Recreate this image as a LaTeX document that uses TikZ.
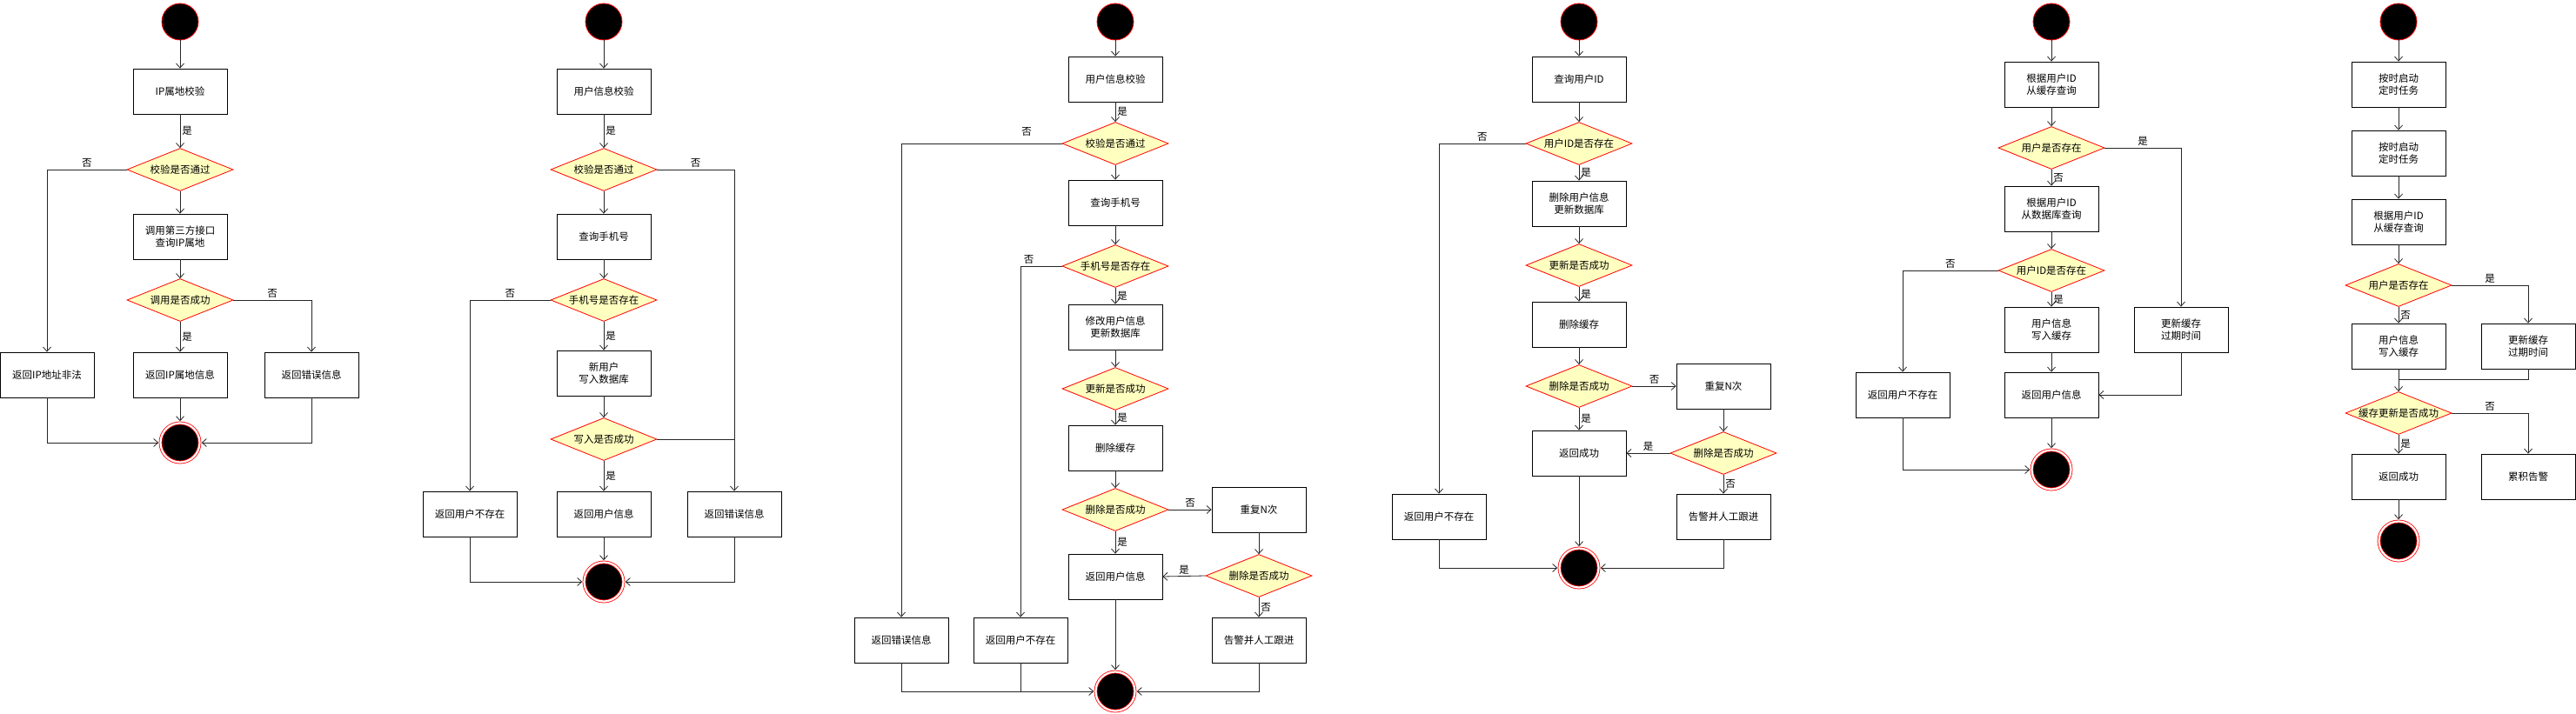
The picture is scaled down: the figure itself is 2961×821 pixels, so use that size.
\documentclass[tikz,border=0pt]{standalone}
\usepackage{fontspec}
\setmainfont{Noto Sans CJK SC}
\usetikzlibrary{shapes.geometric, arrows.meta, positioning}
\definecolor{dyellow}{HTML}{FFFFC0}
\tikzstyle{startstate} = [circle, fill=black, draw=red, line width=0.8pt, minimum size=42pt, inner sep=0pt]
\tikzstyle{endstate} = [circle, fill=black, draw=red, line width=0.8pt, double=white, double distance=2.2pt, minimum size=45pt, inner sep=0pt, outer sep=2.3pt]
\tikzstyle{actbox} = [rectangle, draw=black, fill=white, line width=0.8pt, minimum width=108pt, minimum height=52pt, align=center, inner sep=2pt]
\tikzstyle{decision} = [diamond, draw=red, fill=dyellow, line width=0.8pt, minimum width=122pt, minimum height=49pt, inner sep=0pt, execute at begin node={\hbox to 0pt\bgroup\hss}, execute at end node={\hss\egroup}]
\tikzstyle{flow} = [draw=black!85, line width=0.8pt, -{Straight Barb[length=5pt,width=9pt]}]
\tikzstyle{plain} = [draw=black!85, line width=0.8pt]
\tikzstyle{lbl} = [inner sep=2pt]
\begin{document}
\begin{tikzpicture}[x=1pt, y=-1pt, font=\fontsize{11.5}{13.5}\selectfont]
\useasboundingbox (0,0) rectangle (2961,821);

% IP
\node[startstate] (s1) at (207,25) {};
\node[actbox] (b1a) at (207,105) {IP属地校验};
\node[decision] (d1a) at (207,195) {校验是否通过};
\node[actbox] (b1b) at (207,272) {调用第三方接口\\查询IP属地};
\node[decision] (d1b) at (207,345) {调用是否成功};
\node[actbox] (b1l) at (54,431) {返回IP地址非法};
\node[actbox] (b1m) at (207,431) {返回IP属地信息};
\node[actbox] (b1r) at (358,431) {返回错误信息};
\node[endstate] (e1) at (207,509) {};
\draw[flow] (s1) -- (b1a);
\draw[flow] (b1a) -- node[lbl, right] (y1a) {是} (d1a);
\draw[flow] (d1a.west) -| node[lbl, above, pos=0.25] (n1a) {否} (b1l.north);
\draw[flow] (d1a) -- (b1b);
\draw[flow] (b1b) -- (d1b);
\draw[flow] (d1b.east) -| node[lbl, above, pos=0.25] (n1b) {否} (b1r.north);
\draw[flow] (d1b) -- node[lbl, right] (y1b) {是} (b1m);
\draw[flow] (b1m) -- (e1);
\draw[flow] (b1l.south) |- (e1.west);
\draw[flow] (b1r.south) |- (e1.east);

% new user
\node[startstate] (s2) at (694,25) {};
\node[actbox] (b2a) at (694,105) {用户信息校验};
\node[decision] (d2a) at (694,195) {校验是否通过};
\node[actbox] (b2b) at (694,272) {查询手机号};
\node[decision] (d2b) at (694,345) {手机号是否存在};
\node[actbox] (b2c) at (694,429) {新用户\\写入数据库};
\node[decision] (d2c) at (694,505) {写入是否成功};
\node[actbox] (b2l) at (540,591) {返回用户不存在};
\node[actbox] (b2m) at (694,591) {返回用户信息};
\node[actbox] (b2r) at (844,591) {返回错误信息};
\node[endstate] (e2) at (694,669) {};
\draw[flow] (s2) -- (b2a);
\draw[flow] (b2a) -- node[lbl, right] (y2a) {是} (d2a);
\draw[flow] (d2a.east) -| node[lbl, above, pos=0.25] (n2a) {否} (b2r.north);
\draw[flow] (d2a) -- (b2b);
\draw[flow] (b2b) -- (d2b);
\draw[flow] (d2b.west) -| node[lbl, above, pos=0.25] (n2b) {否} (b2l.north);
\draw[flow] (d2b) -- node[lbl, right] (y2b) {是} (b2c);
\draw[flow] (b2c) -- (d2c);
\draw[plain] (d2c.east) -- (d2c.east -| b2r.north);
\draw[flow] (d2c) -- node[lbl, right] (y2c) {是} (b2m);
\draw[flow] (b2m) -- (e2);
\draw[flow] (b2l.south) |- (e2.west);
\draw[flow] (b2r.south) |- (e2.east);

% update user
\node[startstate] (s3) at (1282,25) {};
\node[actbox] (b3a) at (1282,91) {用户信息校验};
\node[decision] (d3a) at (1282,165) {校验是否通过};
\node[actbox] (b3b) at (1282,233) {查询手机号};
\node[decision] (d3b) at (1282,306) {手机号是否存在};
\node[actbox] (b3c) at (1282,376) {修改用户信息\\更新数据库};
\node[decision] (d3c) at (1282,447) {更新是否成功};
\node[actbox] (b3d) at (1282,515) {删除缓存};
\node[decision] (d3d) at (1282,586) {删除是否成功};
\node[actbox] (b3n) at (1447,586) {重复N次};
\node[decision] (d3e) at (1447,662) {删除是否成功};
\node[actbox] (b3m) at (1282,663) {返回用户信息};
\node[actbox] (b3w) at (1447,736) {告警并人工跟进};
\node[actbox] (b3l) at (1036,736) {返回错误信息};
\node[actbox] (b3k) at (1173,736) {返回用户不存在};
\node[endstate] (e3) at (1282,795) {};
\draw[flow] (s3) -- (b3a);
\draw[flow] (b3a) -- node[lbl, right] (y3a) {是} (d3a);
\draw[flow] (d3a.west) -| node[lbl, above=6pt, pos=0.11] (n3a) {否} (b3l.north);
\draw[flow] (d3a) -- (b3b);
\draw[flow] (b3b) -- (d3b);
\draw[flow] (d3b.west) -| node[lbl, above, pos=0.4] (n3b) {否} (b3k.north);
\draw[flow] (d3b) -- node[lbl, right] (y3b) {是} (b3c);
\draw[flow] (b3c) -- (d3c);
\draw[flow] (d3c) -- node[lbl, right] (y3c) {是} (b3d);
\draw[flow] (b3d) -- (d3d);
\draw[flow] (d3d) -- node[lbl, above] (n3d) {否} (b3n);
\draw[flow] (d3d) -- node[lbl, right] (y3d) {是} (b3m);
\draw[flow] (b3n) -- (d3e);
\draw[flow] (d3e.west) -- node[lbl, above] (y3e) {是} (b3m.east);
\draw[flow] (d3e) -- node[lbl, right] (n3e) {否} (b3w);
\draw[flow] (b3m) -- (e3);
\draw[flow] (b3l.south) |- (e3.west);
\draw[plain] (b3k.south) -- (b3k.south |- e3.west);
\draw[flow] (b3w.south) |- (e3.east);

% delete user
\node[startstate] (s4) at (1815,25) {};
\node[actbox] (b4a) at (1815,91) {查询用户ID};
\node[decision] (d4a) at (1815,165) {用户ID是否存在};
\node[actbox] (b4b) at (1815,234) {删除用户信息\\更新数据库};
\node[decision] (d4b) at (1815,305) {更新是否成功};
\node[actbox] (b4c) at (1815,373) {删除缓存};
\node[decision] (d4c) at (1815,444) {删除是否成功};
\node[actbox] (b4n) at (1981,444) {重复N次};
\node[decision] (d4d) at (1981,521) {删除是否成功};
\node[actbox] (b4m) at (1815,521) {返回成功};
\node[actbox] (b4w) at (1981,594) {告警并人工跟进};
\node[actbox] (b4l) at (1654,594) {返回用户不存在};
\node[endstate] (e4) at (1815,653) {};
\draw[flow] (s4) -- (b4a);
\draw[flow] (b4a) -- (d4a);
\draw[flow] (d4a.west) -| node[lbl, above, pos=0.25] (n4a) {否} (b4l.north);
\draw[flow] (d4a) -- node[lbl, right] (y4a) {是} (b4b);
\draw[flow] (b4b) -- (d4b);
\draw[flow] (d4b) -- node[lbl, right] (y4b) {是} (b4c);
\draw[flow] (b4c) -- (d4c);
\draw[flow] (d4c) -- node[lbl, above] (n4c) {否} (b4n);
\draw[flow] (d4c) -- node[lbl, right] (y4c) {是} (b4m);
\draw[flow] (b4n) -- (d4d);
\draw[flow] (d4d) -- node[lbl, above] (y4d) {是} (b4m);
\draw[flow] (d4d) -- node[lbl, right] (n4d) {否} (b4w);
\draw[flow] (b4m) -- (e4);
\draw[flow] (b4l.south) |- (e4.west);
\draw[flow] (b4w.south) |- (e4.east);

% query user
\node[startstate] (s5) at (2358,25) {};
\node[actbox] (b5a) at (2358,97) {根据用户ID\\从缓存查询};
\node[decision] (d5a) at (2358,170) {用户是否存在};
\node[actbox] (b5b) at (2358,240) {根据用户ID\\从数据库查询};
\node[decision] (d5b) at (2358,311) {用户ID是否存在};
\node[actbox] (b5c) at (2358,379) {用户信息\\写入缓存};
\node[actbox] (b5r) at (2507,379) {更新缓存\\过期时间};
\node[actbox] (b5m) at (2358,454) {返回用户信息};
\node[actbox] (b5l) at (2187,454) {返回用户不存在};
\node[endstate] (e5) at (2358,540) {};
\draw[flow] (s5) -- (b5a);
\draw[flow] (b5a) -- (d5a);
\draw[flow] (d5a.east) -| node[lbl, above, pos=0.25] (y5a) {是} (b5r.north);
\draw[flow] (d5a) -- node[lbl, right] (n5a) {否} (b5b);
\draw[flow] (b5b) -- (d5b);
\draw[flow] (d5b.west) -| node[lbl, above, pos=0.25] (n5b) {否} (b5l.north);
\draw[flow] (d5b) -- node[lbl, right] (y5b) {是} (b5c);
\draw[flow] (b5c) -- (b5m);
\draw[flow] (b5r.south) |- (b5m.east);
\draw[flow] (b5m) -- (e5);
\draw[flow] (b5l.south) |- (e5.west);

% cache refresh
\node[startstate] (s6) at (2757,25) {};
\node[actbox] (b6a) at (2757,97) {按时启动\\定时任务};
\node[actbox] (b6b) at (2757,176) {按时启动\\定时任务};
\node[actbox] (b6c) at (2757,255) {根据用户ID\\从缓存查询};
\node[decision] (d6a) at (2757,328) {用户是否存在};
\node[actbox] (b6d) at (2757,398) {用户信息\\写入缓存};
\node[actbox] (b6r) at (2906,398) {更新缓存\\过期时间};
\node[decision] (d6b) at (2757,475) {缓存更新是否成功};
\node[actbox] (b6m) at (2757,548) {返回成功};
\node[actbox] (b6w) at (2906,548) {累积告警};
\node[endstate] (e6) at (2757,622) {};
\coordinate (j6) at (2757,436);
\draw[flow] (s6) -- (b6a);
\draw[flow] (b6a) -- (b6b);
\draw[flow] (b6b) -- (b6c);
\draw[flow] (b6c) -- (d6a);
\draw[flow] (d6a.east) -| node[lbl, above, pos=0.25] (y6a) {是} (b6r.north);
\draw[flow] (d6a) -- node[lbl, right] (n6a) {否} (b6d);
\draw[flow] (b6d) -- (d6b);
\draw[plain] (b6r.south) |- (j6);
\draw[flow] (d6b.east) -| node[lbl, above, pos=0.25] (n6b) {否} (b6w.north);
\draw[flow] (d6b) -- node[lbl, right] (y6b) {是} (b6m);
\draw[flow] (b6m) -- (e6);
\end{tikzpicture}
\end{document}
